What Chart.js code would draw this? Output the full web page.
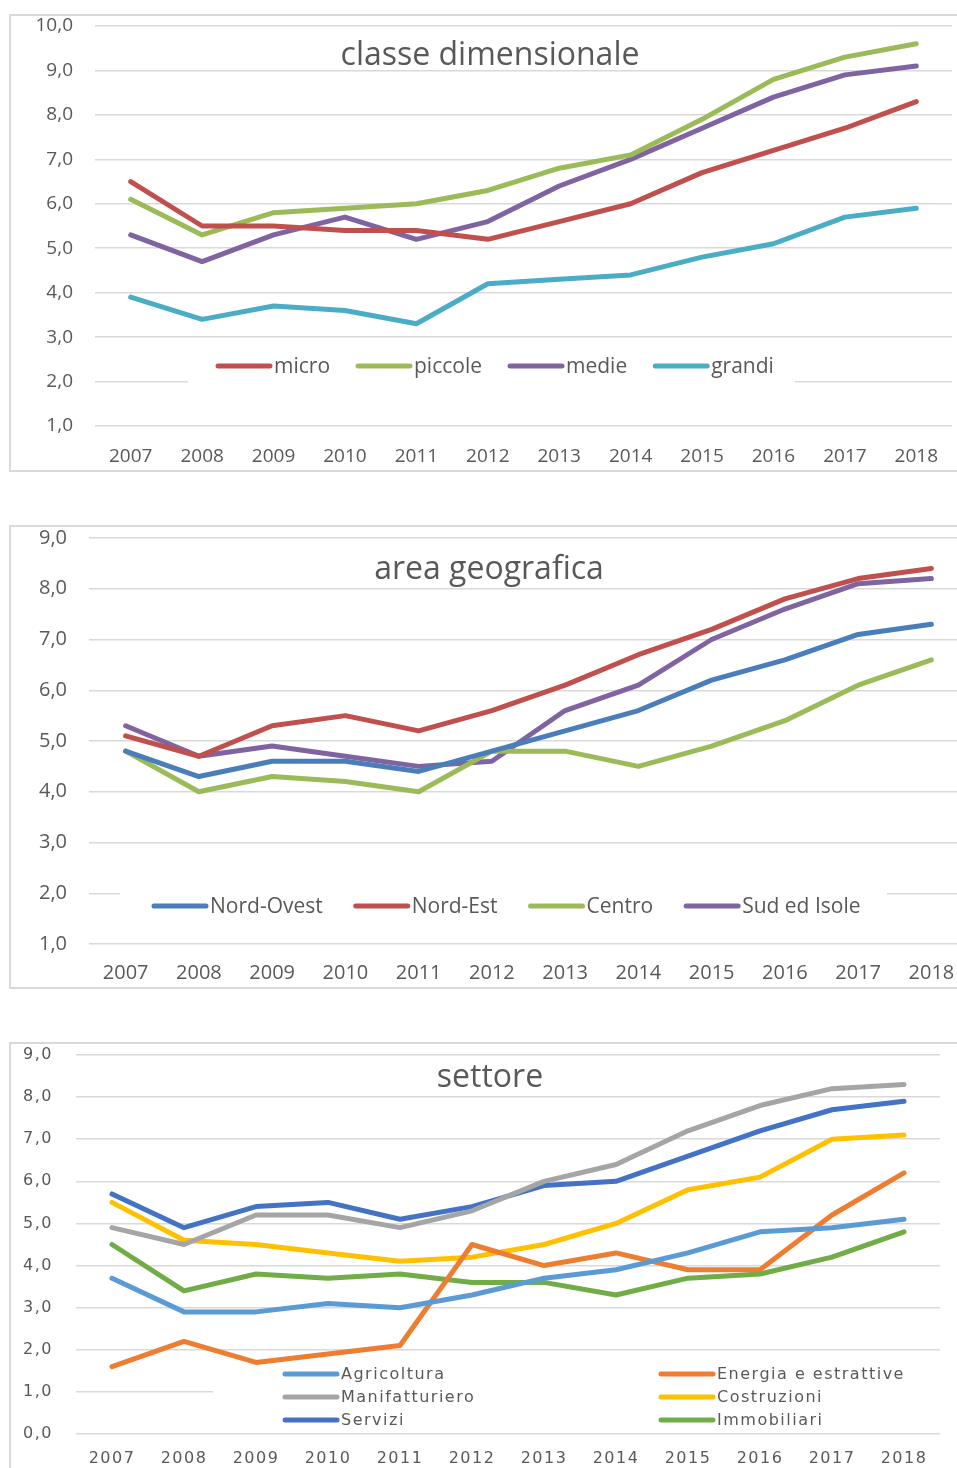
<!DOCTYPE html>
<html>
<head>
<meta charset="utf-8">
<script src="https://cdn.jsdelivr.net/npm/chart.js@4/dist/chart.umd.min.js"></script>
<style>
  html, body { margin: 0; padding: 0; background: #fff; }
  body { width: 957px; height: 1468px; overflow: hidden; position: relative; }
  .frame { position: absolute; box-sizing: border-box; border: 2px solid #d9d9d9; }
  .panel { position: absolute; }
</style>
</head>
<body>
<div class="frame" style="left:9px; top:14px; width:960px; height:458px;"></div>
<div class="panel" style="left:9px; top:14px; width:960px; height:457px;"><canvas id="c1"></canvas></div>

<div class="frame" style="left:9px; top:525px; width:980px; height:464px;"></div>
<div class="panel" style="left:9px; top:525px; width:980px; height:463px;"><canvas id="c2"></canvas></div>

<div class="frame" style="left:9px; top:1042px; width:960px; height:440px;"></div>
<div class="panel" style="left:9px; top:1042px; width:960px; height:440px;"><canvas id="c3"></canvas></div>

<script>
// Years on the x axis (shared by all three panels)
const YEARS = ["2007", "2008", "2009", "2010", "2011", "2012",
               "2013", "2014", "2015", "2016", "2017", "2018"];

// Panel 1: classe dimensionale
const MICRO   = [6.5, 5.5, 5.5, 5.4, 5.4, 5.2, 5.6, 6.0, 6.7, 7.2, 7.7, 8.3];
const PICCOLE = [6.1, 5.3, 5.8, 5.9, 6.0, 6.3, 6.8, 7.1, 7.9, 8.8, 9.3, 9.6];
const MEDIE   = [5.3, 4.7, 5.3, 5.7, 5.2, 5.6, 6.4, 7.0, 7.7, 8.4, 8.9, 9.1];
const GRANDI  = [3.9, 3.4, 3.7, 3.6, 3.3, 4.2, 4.3, 4.4, 4.8, 5.1, 5.7, 5.9];

// Panel 2: area geografica
const NORD_OVEST = [4.8, 4.3, 4.6, 4.6, 4.4, 4.8, 5.2, 5.6, 6.2, 6.6, 7.1, 7.3];
const NORD_EST   = [5.1, 4.7, 5.3, 5.5, 5.2, 5.6, 6.1, 6.7, 7.2, 7.8, 8.2, 8.4];
const CENTRO     = [4.8, 4.0, 4.3, 4.2, 4.0, 4.8, 4.8, 4.5, 4.9, 5.4, 6.1, 6.6];
const SUD_ISOLE  = [5.3, 4.7, 4.9, 4.7, 4.5, 4.6, 5.6, 6.1, 7.0, 7.6, 8.1, 8.2];

// Panel 3: settore
const AGRICOLTURA    = [3.7, 2.9, 2.9, 3.1, 3.0, 3.3, 3.7, 3.9, 4.3, 4.8, 4.9, 5.1];
const ENERGIA        = [1.6, 2.2, 1.7, 1.9, 2.1, 4.5, 4.0, 4.3, 3.9, 3.9, 5.2, 6.2];
const MANIFATTURIERO = [4.9, 4.5, 5.2, 5.2, 4.9, 5.3, 6.0, 6.4, 7.2, 7.8, 8.2, 8.3];
const COSTRUZIONI    = [5.5, 4.6, 4.5, 4.3, 4.1, 4.2, 4.5, 5.0, 5.8, 6.1, 7.0, 7.1];
const SERVIZI        = [5.7, 4.9, 5.4, 5.5, 5.1, 5.4, 5.9, 6.0, 6.6, 7.2, 7.7, 7.9];
const IMMOBILIARI    = [4.5, 3.4, 3.8, 3.7, 3.8, 3.6, 3.6, 3.3, 3.7, 3.8, 4.2, 4.8];

const TEXT = "#595959";
const GRID = "#d9d9d9";
const OPEN = "'Open Sans', 'Noto Sans', sans-serif";
const DEJA = "'DejaVu Sans', Verdana, sans-serif";

const fmt = v => v.toFixed(1).replace(".", ",");

const line = (label, data, color) => ({
  label, data,
  borderColor: color,
  backgroundColor: color,
  borderWidth: 5,
  borderCapStyle: "round",
  borderJoinStyle: "round",
  pointRadius: 0,
  pointHoverRadius: 0,
  tension: 0,
  fill: false,
});

// Title and in-plot legend, drawn on the canvas like the Excel original
const decor = {
  id: "decor",
  beforeDraw(chart, args, o) {
    // the third panel has a slightly letter-spaced look
    chart.ctx.letterSpacing = o.spacing || "0px";
  },
  beforeDatasetsDraw(chart, args, o) {
    const ctx = chart.ctx;
    const lg = o.legend;
    ctx.save();
    ctx.fillStyle = "#fff";
    ctx.fillRect(lg.box[0], lg.box[1], lg.box[2], lg.box[3]);
    ctx.font = lg.font;
    ctx.textBaseline = "middle";
    ctx.lineCap = "round";
    const sets = chart.data.datasets;
    let x = lg.start;
    sets.forEach((ds, i) => {
      let px, py;
      if (lg.cols) {
        px = lg.cols[i % lg.cols.length];
        py = lg.rows[Math.floor(i / lg.cols.length)];
      } else {
        px = x; py = lg.y;
      }
      ctx.strokeStyle = ds.borderColor;
      ctx.lineWidth = 5;
      ctx.beginPath();
      ctx.moveTo(px + 2, py);
      ctx.lineTo(px + lg.len, py);
      ctx.stroke();
      ctx.fillStyle = TEXT;
      ctx.textAlign = "left";
      ctx.fillText(ds.label, px + lg.len + 4, py + 1);
      x = px + lg.len + 4 + ctx.measureText(ds.label).width + lg.gap;
    });
    ctx.restore();
  },
  afterDraw(chart, args, o) {
    const ctx = chart.ctx;
    ctx.save();
    ctx.letterSpacing = "0px";
    ctx.font = o.titleFont;
    ctx.fillStyle = TEXT;
    ctx.textAlign = "center";
    ctx.textBaseline = "middle";
    ctx.fillText(o.title, o.titleX, o.titleY);
    ctx.restore();
    ctx.letterSpacing = "0px";
  },
};

function panel(id, datasets, p) {
  return new Chart(document.getElementById(id), {
    type: "line",
    data: { labels: YEARS, datasets },
    plugins: [decor],
    options: {
      responsive: true,
      maintainAspectRatio: false,
      animation: false,
      events: [],
      layout: { padding: { top: p.top, right: p.right, bottom: 0, left: 0 } },
      plugins: {
        legend: { display: false },
        tooltip: { enabled: false },
        decor: p.decor,
      },
      scales: {
        x: {
          offset: true,
          grid: { display: false, drawTicks: false },
          border: { display: false },
          ticks: { color: TEXT, font: p.tickFont, padding: p.xPad, maxRotation: 0, autoSkip: false },
          afterFit: s => { s.height = p.xHeight; s.paddingLeft = 0; s.paddingRight = 0; },
        },
        y: {
          min: p.yMin,
          max: p.yMax,
          grid: { color: GRID, lineWidth: 1.5, drawTicks: false },
          border: { display: false },
          ticks: { stepSize: 1, color: TEXT, font: p.tickFont, padding: p.yPad, callback: v => fmt(v) },
          afterFit: s => { s.width = p.yWidth; s.paddingTop = 0; s.paddingBottom = 0; },
        },
      },
    },
  });
}

// ---------- Panel 1: classe dimensionale ----------
panel("c1", [
  line("micro",   MICRO,   "#c0504d"),
  line("piccole", PICCOLE, "#9bbb59"),
  line("medie",   MEDIE,   "#8064a2"),
  line("grandi",  GRANDI,  "#4bacc6"),
], {
  top: 12, right: 17, xHeight: 45, yWidth: 86, xPad: 19, yPad: 22,
  yMin: 1, yMax: 10,
  tickFont: { family: OPEN, size: 19 },
  decor: {
    title: "classe dimensionale", titleX: 481, titleY: 42,
    titleFont: "32px " + OPEN,
    legend: { box: [179, 331, 607, 47], start: 207, y: 352, len: 54, gap: 26,
              font: "21px " + OPEN },
  },
});

// ---------- Panel 2: area geografica ----------
panel("c2", [
  line("Nord-Ovest",   NORD_OVEST, "#4a7ebb"),
  line("Nord-Est",     NORD_EST,   "#c0504d"),
  line("Centro",       CENTRO,     "#9bbb59"),
  line("Sud ed Isole", SUD_ISOLE,  "#8064a2"),
], {
  top: 13, right: 21, xHeight: 44, yWidth: 80, xPad: 17, yPad: 22,
  yMin: 1, yMax: 9,
  tickFont: { family: OPEN, size: 20 },
  decor: {
    title: "area geografica", titleX: 480, titleY: 45,
    titleFont: "32px " + OPEN,
    legend: { box: [111, 345, 767, 55], start: 143, y: 381, len: 54, gap: 31,
              font: "21px " + OPEN },
  },
});

// ---------- Panel 3: settore ----------
panel("c3", [
  line("Agricoltura",          AGRICOLTURA,    "#5b9bd5"),
  line("Energia e estrattive", ENERGIA,        "#ed7d31"),
  line("Manifatturiero",       MANIFATTURIERO, "#a5a5a5"),
  line("Costruzioni",          COSTRUZIONI,    "#ffc000"),
  line("Servizi",              SERVIZI,        "#4472c4"),
  line("Immobiliari",          IMMOBILIARI,    "#70ad47"),
], {
  top: 13, right: 29, xHeight: 48, yWidth: 67, xPad: 15, yPad: 23,
  yMin: 0, yMax: 9,
  tickFont: { family: DEJA, size: 16 },
  decor: {
    title: "settore", titleX: 481, titleY: 36,
    titleFont: "32px " + OPEN,
    spacing: "1.5px",
    legend: { box: [204, 318, 760, 72], cols: [274, 650], rows: [332, 355, 378],
              len: 54, gap: 0, font: "16px " + DEJA },
  },
});
</script>
</body>
</html>
